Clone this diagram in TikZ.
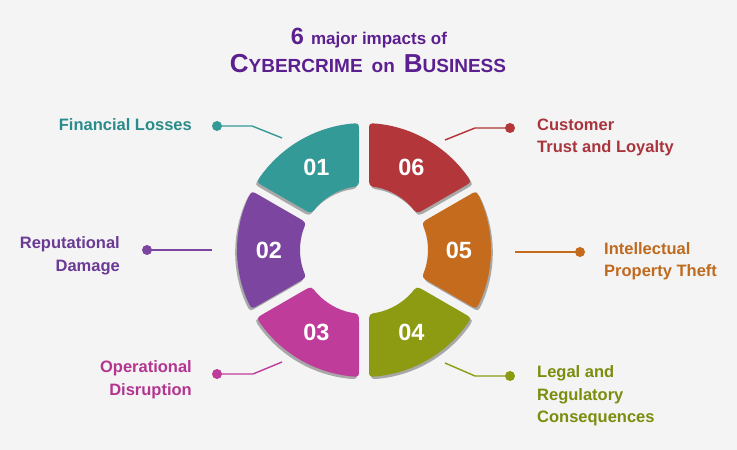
\documentclass[tikz,border=0pt]{standalone}
\usepackage{fontspec}
\setmainfont{Liberation Sans}
\definecolor{bg}{HTML}{F4F4F4}
\definecolor{shadowc}{HTML}{A8A8A8}
\definecolor{titlec}{HTML}{5C1F8F}
\definecolor{c1}{HTML}{339A97}
\definecolor{c2}{HTML}{7B45A0}
\definecolor{c3}{HTML}{C03C9A}
\definecolor{c4}{HTML}{8C9B12}
\definecolor{c5}{HTML}{C46B1E}
\definecolor{c6}{HTML}{B3363A}
\definecolor{t1}{HTML}{2A8C8A}
\definecolor{t2}{HTML}{6A3A94}
\definecolor{t3}{HTML}{B33590}
\definecolor{t4}{HTML}{7C8C0C}
\definecolor{t5}{HTML}{BF6A1F}
\definecolor{t6}{HTML}{A8353E}
\newcommand\ringseg[2]{%
  \pgfmathsetmacro\pA{#1-30}\pgfmathsetmacro\pB{#1+30}%
  \pgfmathsetmacro\aA{\pA+2.257}\pgfmathsetmacro\aB{\pB-2.257}%
  \pgfmathsetmacro\bA{\pA+4.48}\pgfmathsetmacro\bB{\pB-4.48}%
  \pgfmathsetmacro\aAr{\aA+3.6}\pgfmathsetmacro\aBr{\aB-3.6}%
  \pgfmathsetmacro\bAr{\bA+8.0}\pgfmathsetmacro\bBr{\bB-8.0}%
  \pgfmathsetmacro\oBx{127*cos(\aB)}\pgfmathsetmacro\oBy{127*sin(\aB)}%
  \pgfmathsetmacro\oAx{127*cos(\aA)}\pgfmathsetmacro\oAy{127*sin(\aA)}%
  \pgfmathsetmacro\iBx{64*cos(\bB)}\pgfmathsetmacro\iBy{64*sin(\bB)}%
  \pgfmathsetmacro\iAx{64*cos(\bA)}\pgfmathsetmacro\iAy{64*sin(\bA)}%
  \pgfmathsetmacro\sBox{\oBx-8*cos(\pB)}\pgfmathsetmacro\sBoy{\oBy-8*sin(\pB)}%
  \pgfmathsetmacro\sBix{\iBx+9*cos(\pB)}\pgfmathsetmacro\sBiy{\iBy+9*sin(\pB)}%
  \pgfmathsetmacro\sAox{\oAx-8*cos(\pA)}\pgfmathsetmacro\sAoy{\oAy-8*sin(\pA)}%
  \pgfmathsetmacro\sAix{\iAx+9*cos(\pA)}\pgfmathsetmacro\sAiy{\iAy+9*sin(\pA)}%
  \fill[#2] (\aAr:127) arc[start angle=\aAr, end angle=\aBr, radius=127]
    .. controls (\oBx,\oBy) .. (\sBox,\sBoy) -- (\sBix,\sBiy)
    .. controls (\iBx,\iBy) .. (\bBr:64)
    arc[start angle=\bBr, end angle=\bAr, radius=64]
    .. controls (\iAx,\iAy) .. (\sAix,\sAiy) -- (\sAox,\sAoy)
    .. controls (\oAx,\oAy) .. (\aAr:127) -- cycle;%
}
\tikzset{
  numtext/.style={text=white, font=\bfseries\fontsize{23.5}{26}\selectfont, inner sep=0pt},
  lbl/.style={font=\bfseries\fontsize{16.5}{22.5}\selectfont, inner sep=0pt},
  dotc/.style={circle, fill=#1, minimum size=10pt, inner sep=0pt},
  conn/.style={draw=#1, line width=1.4pt},
}
\begin{document}
\begin{tikzpicture}[x=1pt,y=1pt]
\fill[bg] (0,0) rectangle (737,450);
\useasboundingbox (0,0) rectangle (737,450);
% title
\node[anchor=base, text=titlec, inner sep=0pt, font=\bfseries] (title1) at (369,405)
  {{\fontsize{23.5}{26}\selectfont 6}\hspace{7pt}{\fontsize{17}{20}\selectfont major impacts of}};
\node[anchor=base, text=titlec, inner sep=0pt, font=\bfseries] (title2) at (368,377)
  {{\fontsize{26}{28}\selectfont C}{\fontsize{19}{20}\selectfont YBERCRIME\hspace{9pt}on\hspace{9pt}}{\fontsize{26}{28}\selectfont B}{\fontsize{19}{20}\selectfont USINESS}};
% ring
\begin{scope}[shift={(364,200)}]
\foreach \t/\c/\n/\s in {120/c1/01/-1, 180/c2/02/-1, -120/c3/03/-1, -60/c4/04/1, 0/c5/05/1, 60/c6/06/1}{
  \ringseg{\t}{shadowc, xshift=\s*1.8pt, yshift=-2.4pt}
  \ringseg{\t}{\c}
  \node[numtext] (n\n) at (\t:95) {\n};
}
\end{scope}
% labels
\node[lbl, text=t1, anchor=east, align=right] (l1) at (192,325) {Financial Losses};
\node[lbl, text=t2, anchor=east, align=right] (l2) at (120,194) {Reputational\\Damage};
\node[lbl, text=t3, anchor=east, align=right] (l3) at (192,70.5) {Operational\\Disruption};
\node[lbl, text=t4, anchor=west, align=left] (l4) at (537,54) {Legal and\\Regulatory\\Consequences};
\node[lbl, text=t5, anchor=west, align=left] (l5) at (604,189) {Intellectual\\Property Theft};
\node[lbl, text=t6, anchor=west, align=left] (l6) at (537,312.5) {Customer\\Trust and Loyalty};
% dots
\node[dotc=c1] (d1) at (217,324) {};
\node[dotc=c2] (d2) at (147,200) {};
\node[dotc=c3] (d3) at (217,76) {};
\node[dotc=c4] (d4) at (510,74) {};
\node[dotc=c5] (d5) at (580,198) {};
\node[dotc=c6] (d6) at (510,322) {};
% connector points
\coordinate (b1) at (252,324); \coordinate (e1) at (282,312);
\coordinate (e2) at (212,200);
\coordinate (b3) at (253,76);  \coordinate (e3) at (282,88);
\coordinate (b4) at (475,74);  \coordinate (e4) at (445,87);
\coordinate (e5) at (515,198);
\coordinate (b6) at (475,322); \coordinate (e6) at (445,310);
\draw[conn=c1] (d1.center) -- (b1) -- (e1);
\draw[conn=c2] (d2.center) -- (e2);
\draw[conn=c3] (d3.center) -- (b3) -- (e3);
\draw[conn=c4] (d4.center) -- (b4) -- (e4);
\draw[conn=c5] (d5.center) -- (e5);
\draw[conn=c6] (d6.center) -- (b6) -- (e6);
\end{tikzpicture}
\end{document}
